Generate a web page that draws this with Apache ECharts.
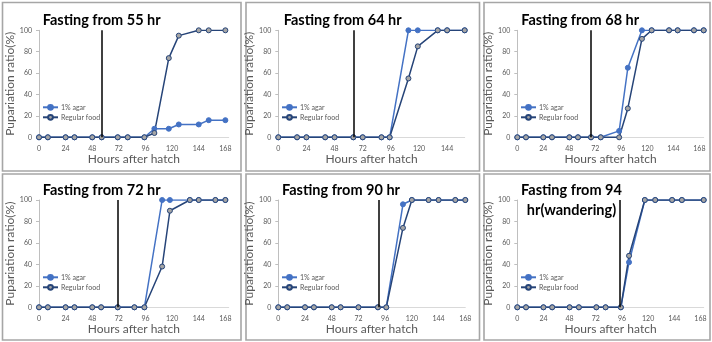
<!DOCTYPE html>
<html><head><meta charset="utf-8">
<script src="https://cdn.jsdelivr.net/npm/echarts@6/dist/echarts.min.js"></script>
<style>html,body{margin:0;padding:0;background:#fff}#c{width:712px;height:342px}</style>
</head><body><div id="c"></div>
<script>
// ---------- data ----------
const titles = ['Fasting from 55 hr', 'Fasting from 64 hr', 'Fasting from 68 hr',
                'Fasting from 72 hr', 'Fasting from 90 hr', 'Fasting from 94\nhr(wandering)'];
const seriesNames = ['1% agar', 'Regular food'];
const yName = 'Pupariation ratio(%)';
const xName = 'Hours after hatch';
const fastStart = [56.5, 64, 68, 71, 90, 94];
const xMaxes = [171, 159, 172, 171, 168, 171];
const xTicksFull = [0, 24, 48, 72, 96, 120, 144, 168];
const xTicksShort = [0, 24, 48, 72, 96, 120, 144];
const yTicks = [0, 20, 40, 60, 80, 100];

const times1 = [0, 8, 24, 32, 48, 56.5, 71, 80, 95, 104, 117, 126, 144, 153, 168];
const agar1  = [0, 0, 0, 0, 0, 0, 0, 0, 0, 8, 8, 12, 12, 16, 16];
const food1  = [0, 0, 0, 0, 0, 0, 0, 0, 0, 4, 74, 95, 100, 100, 100];

const times2 = [0, 16, 24, 40, 48, 64, 72, 88, 95, 111, 119, 136, 144, 159];
const agar2  = [0, 0, 0, 0, 0, 0, 0, 0, 0, 100, 100, 100, 100, 100];
const food2  = [0, 0, 0, 0, 0, 0, 0, 0, 0, 55, 85, 100, 100, 100];

const times3 = [0, 8, 24, 32, 48, 56, 68, 77, 94, 102, 115, 124, 140, 148, 163, 172];
const agar3  = [0, 0, 0, 0, 0, 0, 0, 0, 6, 65, 100, 100, 100, 100, 100, 100];
const food3  = [0, 0, 0, 0, 0, 0, 0, 0, 0, 27, 92, 100, 100, 100, 100, 100];

const times4 = [0, 8, 24, 32, 48, 56, 71, 86, 95, 111, 118, 136, 144, 159, 168];
const agar4  = [0, 0, 0, 0, 0, 0, 0, 0, 0, 100, 100, 100, 100, 100, 100];
const food4  = [0, 0, 0, 0, 0, 0, 0, 0, 0, 38, 90, 100, 100, 100, 100];

const times5 = [0, 8, 24, 32, 48, 56, 72, 89.5, 97, 112, 120, 135, 144, 159, 168];
const agar5  = [0, 0, 0, 0, 0, 0, 0, 0, 0, 96, 100, 100, 100, 100, 100];
const food5  = [0, 0, 0, 0, 0, 0, 0, 0, 0, 74, 100, 100, 100, 100, 100];

const times6 = [0, 8, 24, 32, 48, 56.5, 72.5, 81, 95, 102.5, 117, 126.5, 142, 151, 171];
const agar6  = [0, 0, 0, 0, 0, 0, 0, 0, 0, 42, 100, 100, 100, 100, 100];
const food6  = [0, 0, 0, 0, 0, 0, 0, 0, 0, 48, 100, 100, 100, 100, 100];

const panelTimes = [times1, times2, times3, times4, times5, times6];
const panelAgar = [agar1, agar2, agar3, agar4, agar5, agar6];
const panelFood = [food1, food2, food3, food4, food5, food6];
const panelTicks = [xTicksFull, xTicksShort, xTicksFull, xTicksFull, xTicksFull, xTicksFull];

// ---------- layout ----------
const grids = [
  {left: 39, top: 30.3, width: 189.7, height: 107},
  {left: 278.3, top: 30.3, width: 186.4, height: 107},
  {left: 517.3, top: 30.3, width: 186.4, height: 107},
  {left: 39, top: 200, width: 189.7, height: 107.3},
  {left: 278.3, top: 200, width: 187, height: 107.3},
  {left: 517.3, top: 200, width: 186.4, height: 107.3}
];
const titlePos = [
  {x: 101.7, y: 10}, {x: 342.7, y: 10}, {x: 580.2, y: 10},
  {x: 101.7, y: 180}, {x: 341, y: 180}, {x: 571.5, y: 180}
];
const legendPos = [
  {x: 42, y: 103.3}, {x: 281, y: 103.3}, {x: 520, y: 103.3},
  {x: 42, y: 273.3}, {x: 281, y: 273.3}, {x: 520, y: 273.3}
];
const boxes = [
  [2.5, 2.5, 241, 171], [246, 2.5, 479.5, 171], [484, 2.5, 710, 171],
  [2.5, 174, 241, 340], [246, 174, 479.5, 340], [484, 174, 710, 340]
];

const FONT = 'Lato';
const GREY = '#595959';
const AGAR = '#4472C4';
const FOOD = '#264478';

const option = {
  backgroundColor: '#fff',
  animation: false,
  textStyle: {fontFamily: FONT},
  title: [], legend: [], grid: [], xAxis: [], yAxis: [], series: [],
  graphic: boxes.map(b => ({
    type: 'rect', silent: true, z: 0,
    shape: {x: b[0], y: b[1], width: b[2] - b[0], height: b[3] - b[1]},
    style: {fill: 'none', stroke: '#A6A6A6', lineWidth: 1.6}
  }))
};

for (let i = 0; i < 6; i++) {
  option.grid.push(Object.assign({containLabel: false}, grids[i]));
  option.title.push({
    text: titles[i], left: titlePos[i].x, top: titlePos[i].y, textAlign: 'center', padding: 0,
    textStyle: {fontFamily: FONT, fontWeight: 'bold', fontSize: 14.5, lineHeight: 20, color: '#000'}
  });
  option.legend.push({
    orient: 'vertical', left: legendPos[i].x, top: legendPos[i].y, padding: 0,
    itemWidth: 15, itemHeight: 6, itemGap: 2, selectedMode: false,
    data: seriesNames,
    textStyle: {fontFamily: FONT, fontSize: 7, lineHeight: 8, color: GREY, padding: [0, 0, 0, -2]}
  });
  option.xAxis.push({
    type: 'value', gridIndex: i, min: 0, max: xMaxes[i],
    name: xName, nameLocation: 'middle', nameGap: 16,
    nameTextStyle: {fontFamily: FONT, fontSize: 12, color: GREY},
    axisLine: {show: true, onZero: false, lineStyle: {color: '#D9D9D9', width: 1}},
    axisTick: {show: false},
    splitLine: {show: false},
    axisLabel: {customValues: panelTicks[i], fontSize: 7, color: GREY, margin: 8, fontFamily: FONT}
  });
  option.yAxis.push({
    type: 'value', gridIndex: i, min: 0, max: 100, interval: 20,
    name: yName, nameLocation: 'middle', nameGap: 15,
    nameTextStyle: {fontFamily: FONT, fontSize: 12, color: GREY},
    axisLine: {show: true, lineStyle: {color: '#BFBFBF', width: 1}},
    axisTick: {show: true, length: 3, lineStyle: {color: '#BFBFBF'}},
    splitLine: {show: false},
    axisLabel: {customValues: yTicks, fontSize: 7, color: GREY, margin: 7, fontFamily: FONT}
  });
  const t = panelTimes[i];
  option.series.push({
    name: seriesNames[0], type: 'line', xAxisIndex: i, yAxisIndex: i,
    data: t.map((x, k) => [x, panelAgar[i][k]]),
    symbol: 'circle', symbolSize: 5,
    lineStyle: {color: AGAR, width: 1.5},
    itemStyle: {color: AGAR, borderColor: AGAR, borderWidth: 1},
    emphasis: {disabled: true},
    markLine: {
      silent: true, symbol: 'none', label: {show: false},
      lineStyle: {color: '#000', width: 1.5, type: 'solid'},
      data: [{xAxis: fastStart[i]}]
    }
  });
  option.series.push({
    name: seriesNames[1], type: 'line', xAxisIndex: i, yAxisIndex: i,
    data: t.map((x, k) => [x, panelFood[i][k]]),
    symbol: 'circle', symbolSize: 5,
    lineStyle: {color: FOOD, width: 1.5},
    itemStyle: {color: '#A5A5A5', borderColor: FOOD, borderWidth: 1},
    emphasis: {disabled: true}
  });
}

const chart = echarts.init(document.getElementById('c'), null, {renderer: 'canvas'});
chart.setOption(option);
</script>
</body></html>
